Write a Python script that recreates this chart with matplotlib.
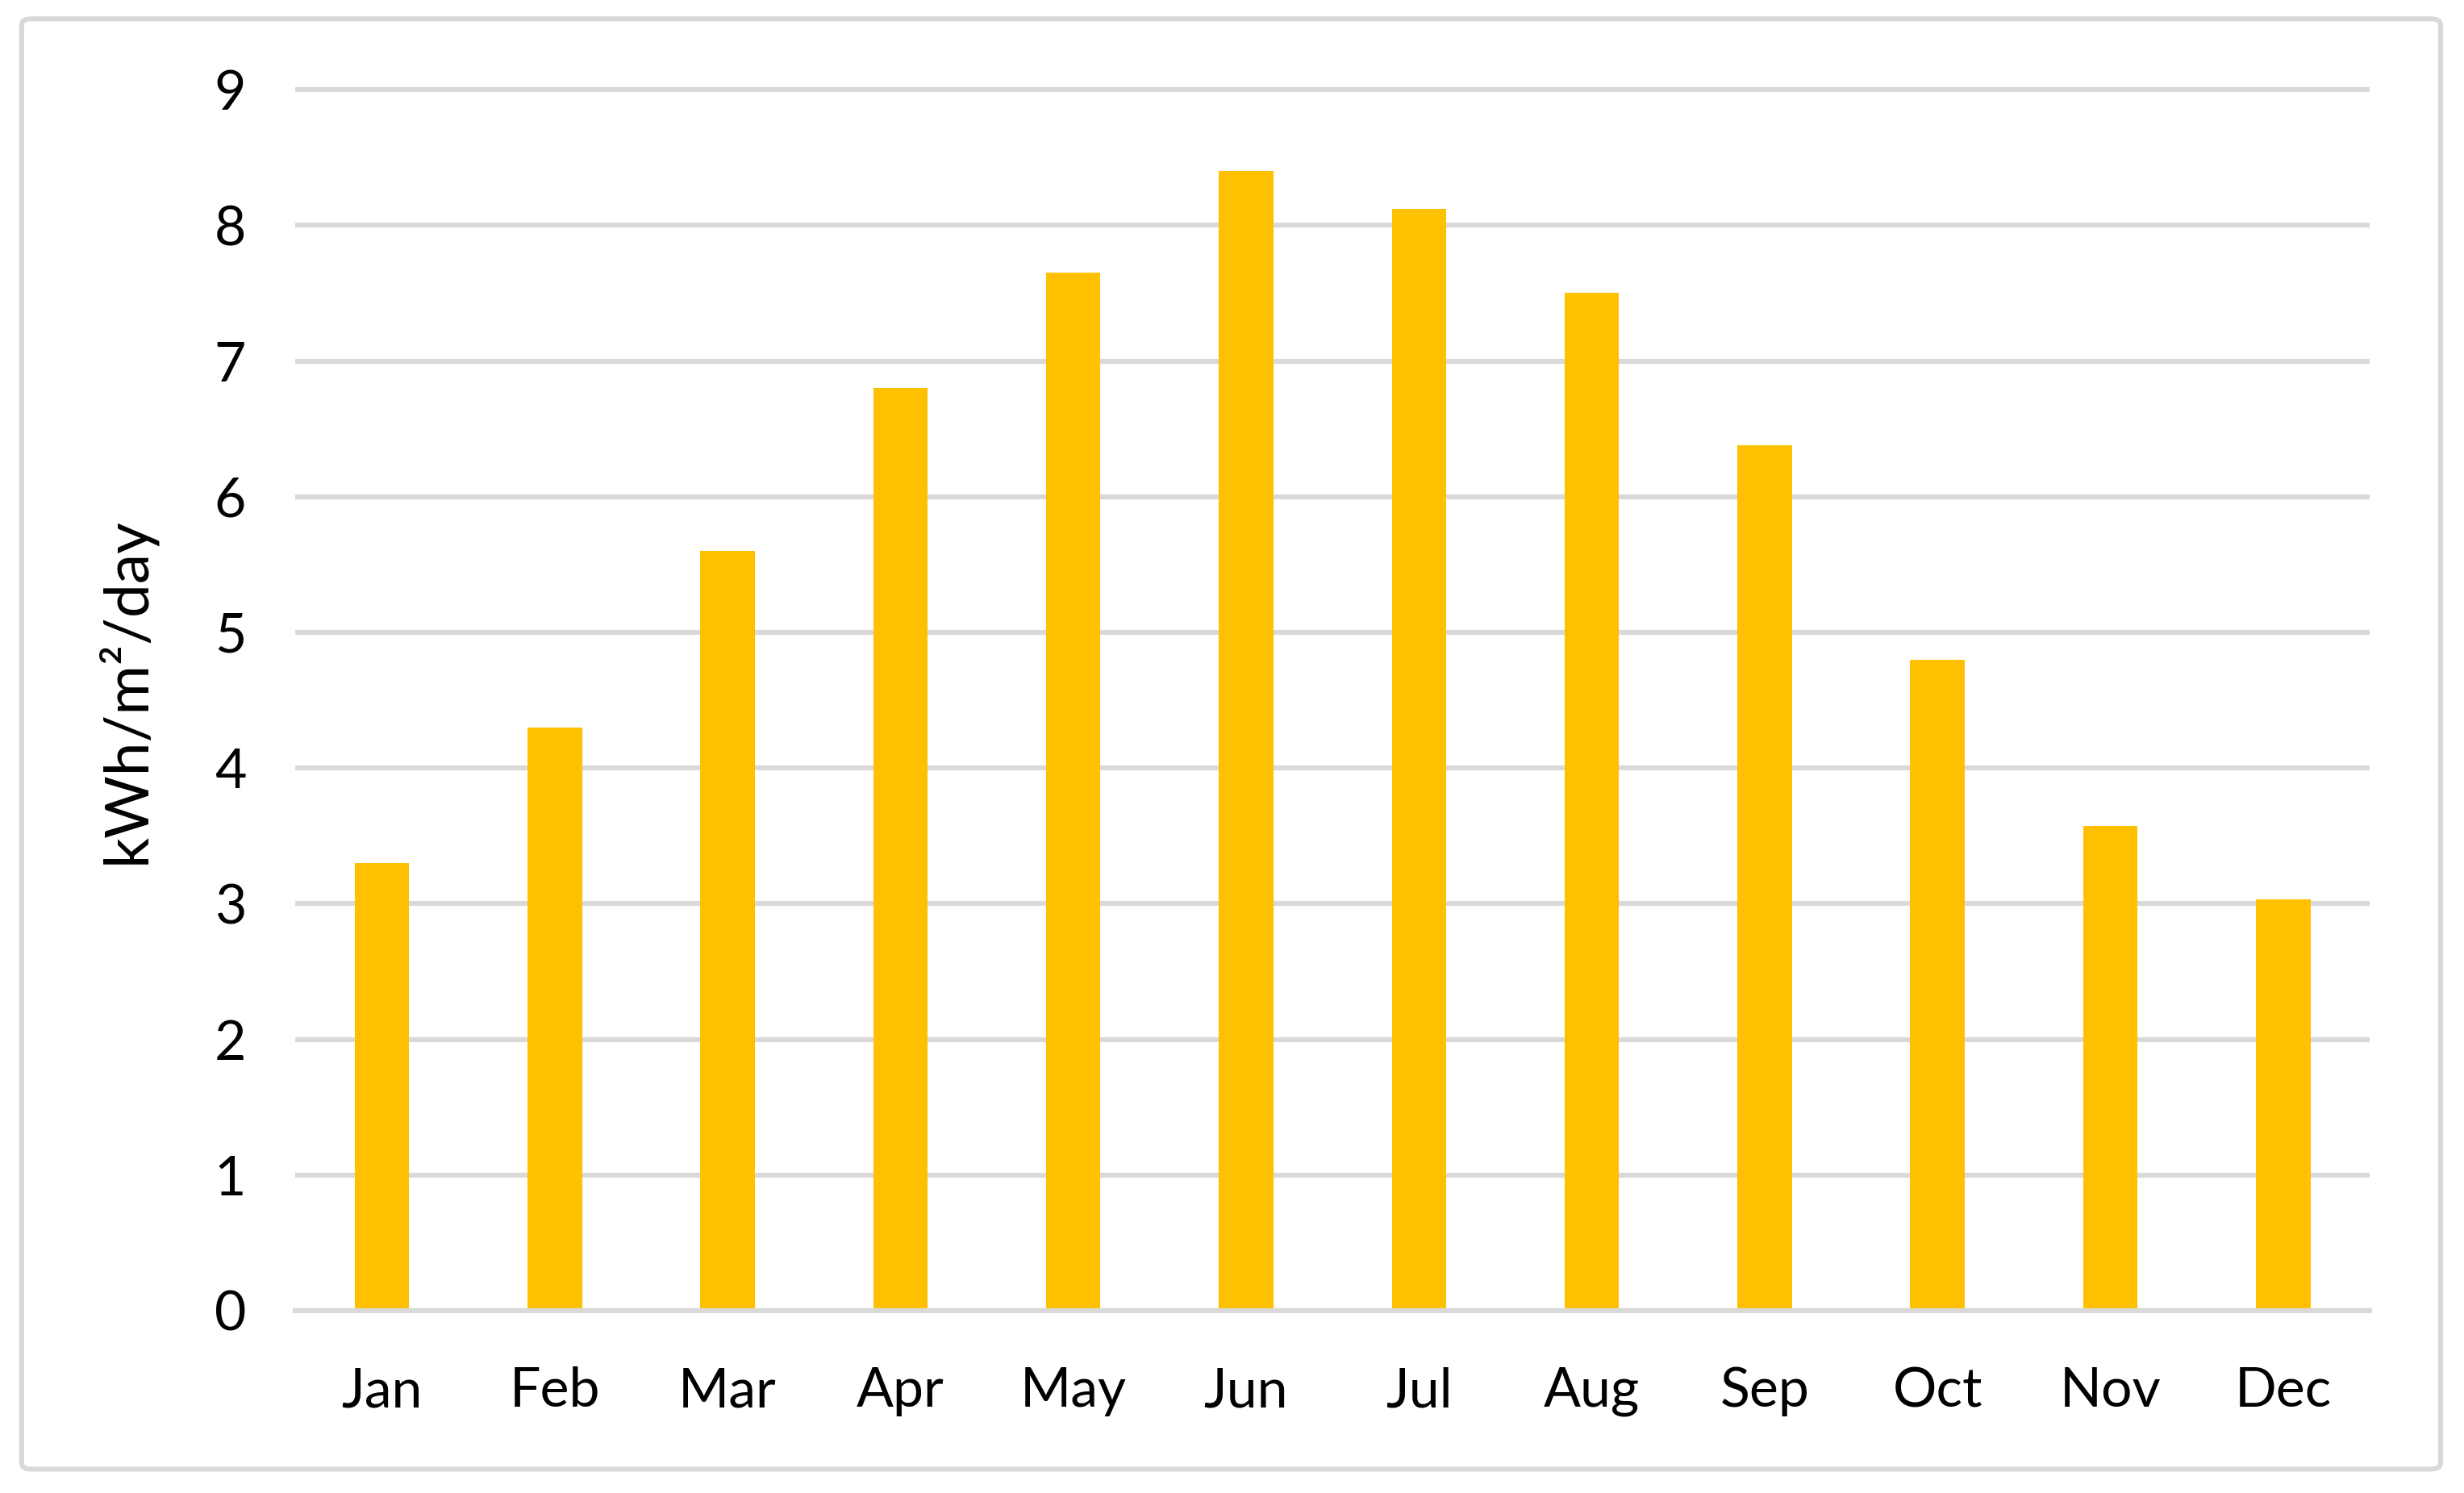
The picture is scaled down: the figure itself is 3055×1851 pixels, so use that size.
import matplotlib
matplotlib.use("Agg")
import matplotlib.pyplot as plt
from matplotlib.patches import FancyBboxPatch

# monthly solar irradiation
months = ["Jan", "Feb", "Mar", "Apr", "May", "Jun",
          "Jul", "Aug", "Sep", "Oct", "Nov", "Dec"]
kwh_per_day = [3.3, 4.3, 5.6, 6.8, 7.65, 8.4, 8.12, 7.5, 6.38, 4.8, 3.57, 3.03]
y_ticks = [0, 1, 2, 3, 4, 5, 6, 7, 8, 9]

plt.rcParams['font.family'] = ['Lato', 'DejaVu Sans']

grid_col = "#D9D9D9"
bar_col = "#FFC000"

fig = plt.figure(figsize=(15.275, 9.255), dpi=200)
ax = fig.add_axes([0.1199, 0.1221, 0.8418, 0.8224])

x = list(range(len(months)))
ax.bar(x, kwh_per_day, width=0.315, color=bar_col, zorder=1)

ax.set_xlim(-0.5, len(months) - 0.5)
ax.set_ylim(0, 9.05)
ax.set_yticks(y_ticks)
ax.set_xticks(x)
ax.set_xticklabels(months)

ax.set_axisbelow(True)
ax.yaxis.grid(True, color=grid_col, linewidth=2.2)
for s in ["top", "left", "right"]:
    ax.spines[s].set_visible(False)
ax.spines["bottom"].set_color(grid_col)
ax.spines["bottom"].set_linewidth(2.2)
ax.spines["bottom"].set_zorder(3)

ax.tick_params(axis="both", length=0, labelsize=24.5, colors="black")
ax.tick_params(axis="y", pad=22)
ax.tick_params(axis="x", pad=25)

ax.set_ylabel("kWh/m\u00b2/day", fontsize=27, va="center")
ax.yaxis.set_label_coords(-0.082, 0.505)

# light grey frame round the whole chart
frame = FancyBboxPatch((0.0088, 0.0160), 0.9817, 0.9714,
                       boxstyle="round,pad=0,rounding_size=0.004",
                       transform=fig.transFigure, facecolor="none",
                       edgecolor=grid_col, linewidth=2.2)
fig.patches.append(frame)

fig.savefig("out.png", dpi=200, facecolor="white")
